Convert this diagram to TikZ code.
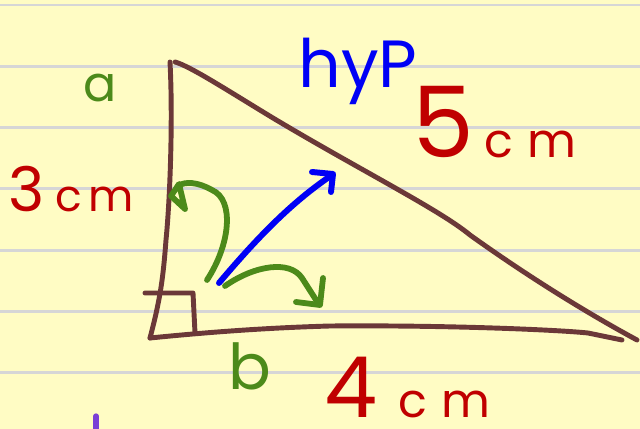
\documentclass[tikz,border=0pt]{standalone}
\usepackage{fontspec}
\setmainfont{Poppins}
\definecolor{paper}{HTML}{FFFCC4}
\definecolor{ruleline}{HTML}{D6D6D6}
\definecolor{legbrown}{HTML}{6B3838}
\definecolor{penred}{HTML}{C00000}
\definecolor{penblue}{HTML}{0000F5}
\definecolor{pengreen}{HTML}{4C8A1A}
\definecolor{penpurple}{HTML}{7A3FD6}
\tikzset{
  ruled/.style={ruleline, line width=1.7pt},
  leg/.style={legbrown, line width=2.8pt},
  angarrow/.style={pengreen, line width=3.3pt},
  hyparrow/.style={penblue, line width=3.4pt},
  redlabel/.style={penred, inner sep=0pt, anchor=base west},
  greenlabel/.style={pengreen, inner sep=0pt, anchor=base west},
}
\begin{document}
\begin{tikzpicture}[x=0.02cm, y=-0.02cm, line cap=round, line join=round]
  \useasboundingbox (0,0) rectangle (640,429);
  \clip (0,0) rectangle (640,429);
  % lined paper
  \fill[paper] (0,0) rectangle (640,429);
  \foreach \k in {0,...,6}
    \draw[ruled] (-5,5+61.33*\k) -- (645,5+61.33*\k);

  % triangle corners
  \coordinate (top) at (170,62);
  \coordinate (corner) at (150,338);
  \coordinate (tip) at (637,340);

  % legs and hypotenuse
  \draw[leg] (top) .. controls (173,120) and (170,200) .. (166,240)
    .. controls (163,280) and (160,300) .. (corner);
  \draw[leg] (corner) .. controls (200,333) and (260,328) .. (330,326)
    .. controls (450,325) and (560,330) .. (588,333) -- (622,340);
  \draw[leg] (175,62) .. controls (190,66) and (230,92) .. (273,118)
    .. controls (360,170) and (440,210) .. (470,235)
    .. controls (540,285) and (600,320) .. (tip);
  \draw[leg] (145,293) -- (193,293) -- (195,333);

  % arrows
  \coordinate (hstart) at (219,283);
  \coordinate (hend) at (332,175);
  \draw[hyparrow] (hstart) .. controls (262,232) and (295,200) .. (hend);
  \draw[hyparrow] (312,172) -- (333,174) -- (331,192);

  \coordinate (astart) at (207,280);
  \draw[angarrow] (astart) .. controls (230,245) and (235,200) .. (212,190)
    .. controls (198,182) and (185,181) .. (178,186);
  \draw[angarrow] (179,184) -- (171,196) -- (185,209) -- cycle;

  \coordinate (bstart) at (225,286);
  \draw[angarrow] (bstart) .. controls (255,265) and (290,260) .. (302,278)
    -- (318,303);
  \draw[angarrow] (296,302) -- (320,305) -- (323,278);

  \draw[penpurple, line width=3pt] (96,416) -- (96,440);

  % labels
  \node[greenlabel] (lbla) at (83,102) {\fontsize{28}{28}\selectfont a};
  \node[greenlabel] (lblb) at (228,390) {\fontsize{36}{36}\selectfont b};
  \node[redlabel] (lbl3) at (8,212)
    {\fontsize{35}{35}\selectfont 3\hspace{6pt}\fontsize{25}{25}\selectfont c\hspace{4pt}m};
  \node[redlabel] (lbl5) at (412,158)
    {\fontsize{56}{56}\selectfont 5\hspace{6pt}\fontsize{27}{27}\selectfont c\hspace{8pt}m};
  \node[redlabel] (lbl4) at (324,418)
    {\fontsize{48}{48}\selectfont 4\hspace{12pt}\fontsize{27}{27}\selectfont c\hspace{8pt}m};
  \node[penblue, inner sep=0pt, anchor=base west] (lblhyp) at (298,88)
    {\fontsize{38}{38}\selectfont hyP};
\end{tikzpicture}
\end{document}
